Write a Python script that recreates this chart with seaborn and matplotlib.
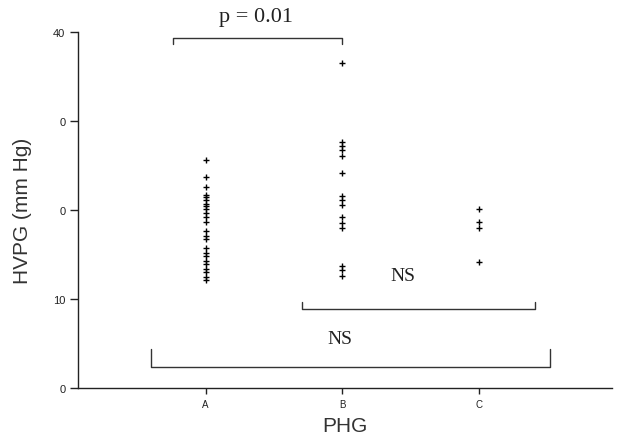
import matplotlib
matplotlib.use("Agg")
import matplotlib.pyplot as plt
import seaborn as sns
import pandas as pd

# Data
groups = ["A", "B", "C"]
hvpg_A = [25.6, 23.7, 22.6, 21.7, 21.4, 21.1, 20.7, 20.4, 20.1, 19.6, 19.2, 18.7,
          17.6, 17.1, 16.7, 15.7, 15.2, 14.8, 14.3, 13.9, 13.4, 13.0, 12.5, 12.1]
hvpg_B = [36.5, 27.6, 27.2, 26.7, 26.1, 24.1, 21.6, 21.1, 20.5, 19.2, 18.5, 18.0,
          13.7, 13.2, 12.6]
hvpg_C = [20.1, 18.6, 18.0, 14.1]
ytick_values = [0, 10, 20, 30, 40]
ytick_labels = ["0", "10", "0", "0", "40"]

df = pd.DataFrame({
    "PHG": ["A"] * len(hvpg_A) + ["B"] * len(hvpg_B) + ["C"] * len(hvpg_C),
    "HVPG": hvpg_A + hvpg_B + hvpg_C,
})

sns.set_style("ticks")
fig = plt.figure(figsize=(6.19, 4.39), dpi=100)
ax = fig.add_axes([0.126, 0.114, 0.863, 0.811])

sns.stripplot(data=df, x="PHG", y="HVPG", order=groups, jitter=False,
              marker="+", color="black", size=4.5, linewidth=1.0, ax=ax)

ax.set_xlim(-0.935, 2.976)
ax.set_ylim(0, 40)
ax.set_yticks(ytick_values)
ax.set_yticklabels(ytick_labels)
sns.despine(ax=ax, top=True, right=True)
for s in ("left", "bottom"):
    ax.spines[s].set_linewidth(1.0)
    ax.spines[s].set_color("#222222")
ax.tick_params(axis="y", length=6, width=1, pad=3, labelsize=8, colors="#222222")
ax.tick_params(axis="x", length=4, width=1, pad=4, labelsize=7, colors="#222222")
for lab in ax.get_xticklabels() + ax.get_yticklabels():
    lab.set_family("Liberation Sans")

ax.set_xlabel("PHG", fontsize=15, family="Liberation Sans", color="#333333", labelpad=5)
ax.set_ylabel("HVPG (mm Hg)", fontsize=15, family="Liberation Sans", color="#333333",
              labelpad=15)

# Significance brackets
lc = "#333333"
ax.plot([-0.24, -0.24, 1.0, 1.0], [38.6, 39.3, 39.3, 38.6], color=lc, lw=1, clip_on=False)
ax.text(0.37, 41.7, "p = 0.01", ha="center", va="center", fontsize=16,
        family="Liberation Serif", color="#222222", clip_on=False)

ax.plot([0.705, 0.705, 2.41, 2.41], [9.7, 8.9, 8.9, 9.7], color=lc, lw=1)
ax.text(1.445, 12.6, "NS", ha="center", va="center", fontsize=14,
        family="Liberation Serif", color="#222222")

ax.plot([-0.40, -0.40, 2.52, 2.52], [4.4, 2.4, 2.4, 4.4], color=lc, lw=1)
ax.text(0.98, 5.6, "NS", ha="center", va="center", fontsize=14,
        family="Liberation Serif", color="#222222")

fig.savefig("out.png", dpi=100)
